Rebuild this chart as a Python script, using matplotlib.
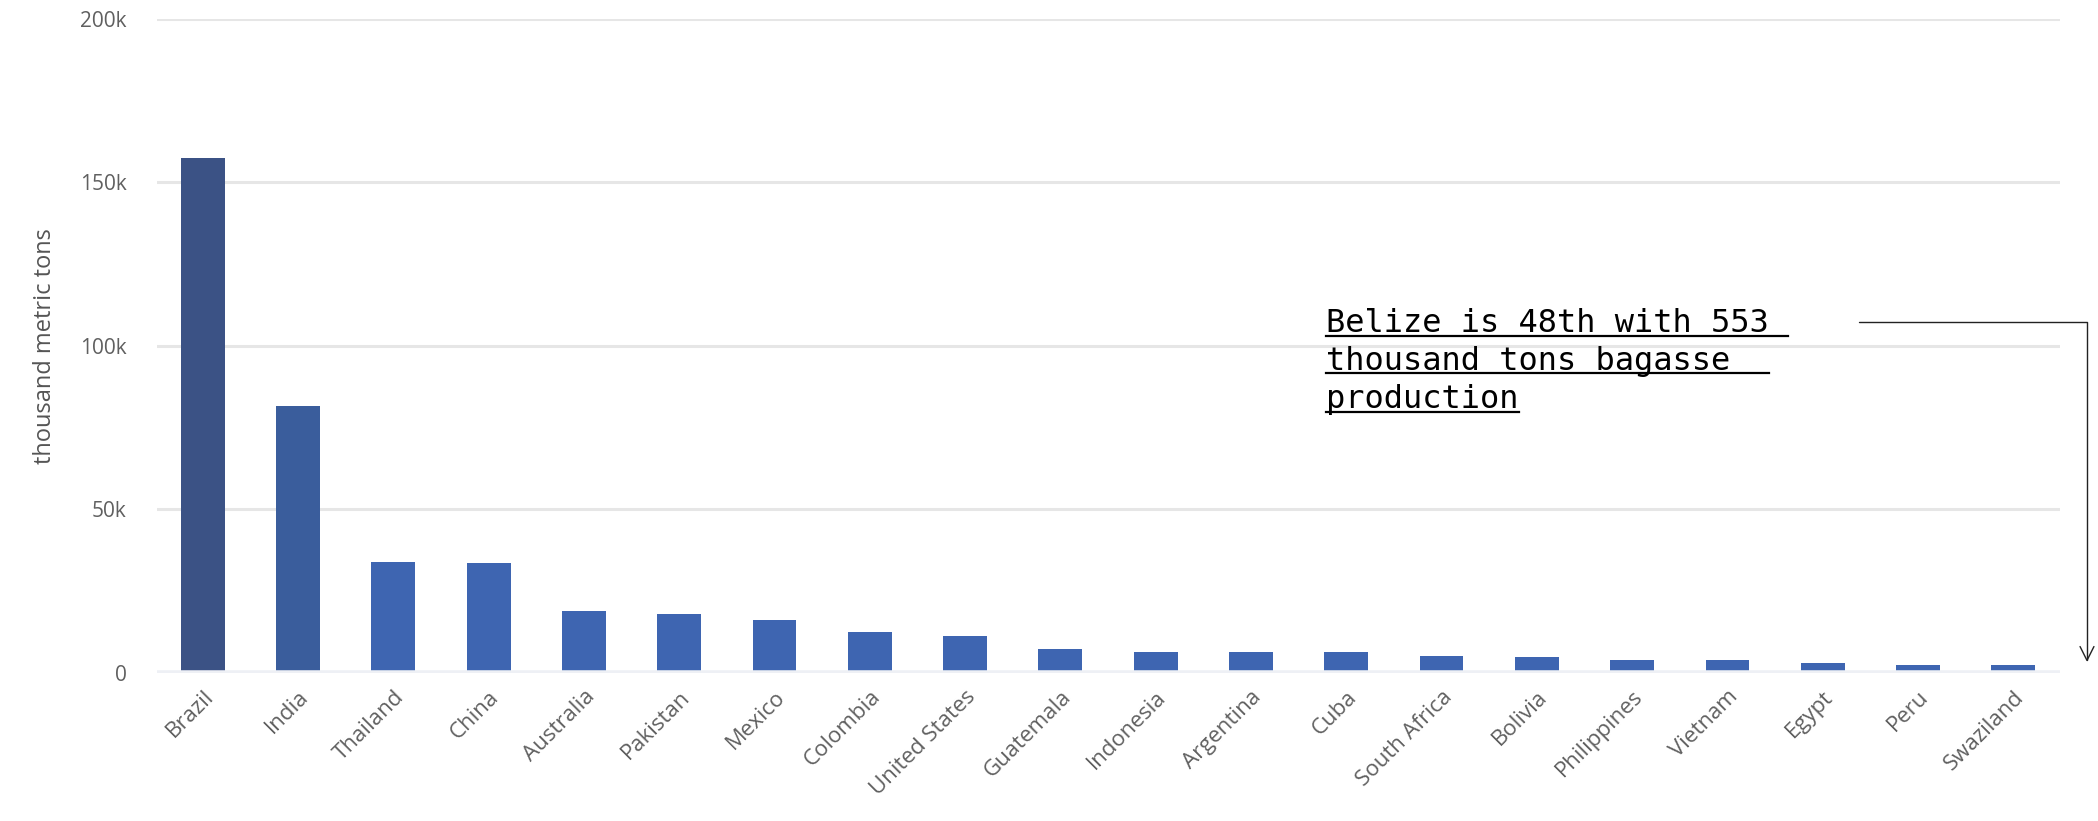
import matplotlib
matplotlib.use("Agg")
import matplotlib.pyplot as plt

countries = ["Brazil", "India", "Thailand", "China", "Australia", "Pakistan",
             "Mexico", "Colombia", "United States", "Guatemala", "Indonesia",
             "Argentina", "Cuba", "South Africa", "Bolivia", "Philippines",
             "Vietnam", "Egypt", "Peru", "Swaziland"]
bagasse = [157300, 81600, 33700, 33500, 18800, 17900, 16000, 12400, 11300, 7100,
           6400, 6400, 6400, 5000, 4600, 3700, 3700, 2800, 2300, 2300]
yticks = [0, 50000, 100000, 150000, 200000]
ytick_labels = ["0", "50k", "100k", "150k", "200k"]
note_lines = ["Belize is 48th with 553 ", "thousand tons bagasse  ", "production"]

W, H = 2098, 821
fig = plt.figure(figsize=(W / 100, H / 100), dpi=100)
ax = fig.add_axes([157 / W, 1 - 672.5 / H, (2060 - 157) / W, (672.5 - 18.7) / H])

colors = ["#3b5285", "#3a5d9c"] + ["#3e65b1"] * (len(countries) - 2)
x = range(len(countries))
ax.bar(x, bagasse, width=0.46, color=colors, zorder=3)

ax.set_xlim(-0.48, len(countries) - 0.51)
ax.set_ylim(0, 200000)
ax.set_yticks(yticks)
ax.set_yticklabels(ytick_labels)
ax.set_xticks(list(x))
ax.set_xticklabels(countries, rotation=45, ha="right", rotation_mode="anchor")

for s in ax.spines.values():
    s.set_visible(False)
ax.grid(axis="y", color="#e6e6e6", linewidth=2.2, zorder=0)
ax.axhline(0, color="#eef0f5", linewidth=4, zorder=4)
ax.tick_params(axis="both", length=0, labelsize=15, labelcolor="#606060")
ax.tick_params(axis="x", labelsize=16, pad=10)
ax.tick_params(axis="y", pad=22)
for lab in ax.get_xticklabels() + ax.get_yticklabels():
    lab.set_family("Open Sans")
ax.set_ylabel("thousand metric tons", fontsize=17, color="#555555",
              family="Open Sans", labelpad=16)

# annotation text with underline
x0 = 1326
baselines = [331.7, 369.5, 408]
texts = []
for line, yb in zip(note_lines, baselines):
    t = fig.text(x0 / W, 1 - yb / H, line, family="DejaVu Sans Mono",
                 fontsize=23, color="black", va="baseline", ha="left")
    texts.append(t)
fig.canvas.draw()
r = fig.canvas.get_renderer()
bb = texts[2].get_window_extent(r)
adv = bb.width / len(note_lines[2])
for line, yb in zip(note_lines, baselines):
    yu = 1 - (yb + 4) / H
    fig.add_artist(plt.Line2D([x0 / W, (x0 + adv * len(line)) / W], [yu, yu],
                              color="black", linewidth=1.6))

ax.annotate("", xy=(2087 / W, 1 - 662 / H), xycoords="figure fraction",
            xytext=(1859 / W, 1 - 322 / H), textcoords="figure fraction",
            arrowprops=dict(arrowstyle="->", color="#222222", lw=1,
                            connectionstyle="angle,angleA=0,angleB=90,rad=0",
                            shrinkA=0, shrinkB=0, mutation_scale=25))

fig.savefig("out.png", dpi=100)
